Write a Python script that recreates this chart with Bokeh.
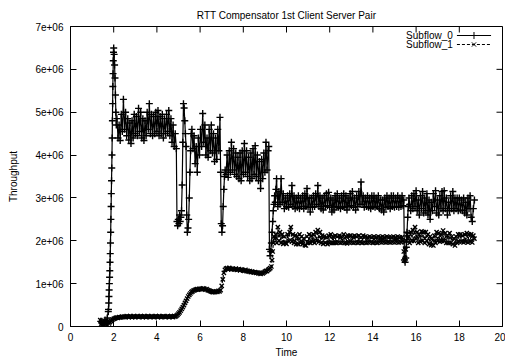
from bokeh.plotting import figure
from bokeh.models import Range1d, FixedTicker, Label, ColumnDataSource
from bokeh.embed import file_html
from bokeh.resources import INLINE

# Throughput samples per subflow, values in units of 1e6.
# Each block: (first time, sampling interval, samples)
subflow_0_blocks = [
    (1.40, 0.05, [0.12, 0.08, 0.05, 0.10, 0.15, 0.08, 0.20, 0.35]),
    (1.76, 0.01, [0.40, 0.55, 0.70, 0.85, 1.00, 1.15, 1.30, 1.50, 1.70, 1.95, 2.20, 2.50, 2.80,
                  3.10, 3.40, 3.70, 4.00, 4.40, 4.80, 5.20, 5.60, 5.90, 6.20, 6.40, 6.50]),
    (2.02, 0.02, [6.35, 6.10, 5.80, 5.40, 5.00, 4.70]),
    (2.15, 0.05, [4.85, 4.40, 4.70, 4.34, 4.95, 4.55, 5.30, 4.60, 5.00, 4.45, 4.85, 4.35, 4.75,
                  4.27, 4.80, 4.40, 4.95, 4.50, 4.90, 4.45, 5.09, 4.55, 5.00, 4.40, 4.85, 4.34,
                  4.80, 4.45, 5.00, 4.60, 5.20, 4.50, 4.95, 4.45, 4.90, 4.50, 5.00, 4.55, 5.04,
                  4.45, 4.90, 4.50, 4.95, 4.40, 4.85, 4.50, 4.95, 4.55, 5.04, 4.45, 4.85, 4.30,
                  4.70, 4.20, 4.50, 4.15]),
    (4.93, 0.03, [2.45, 2.35, 2.50, 2.40, 2.60, 2.45, 2.55, 2.70, 3.30, 4.30, 5.20, 5.10, 4.80,
                  4.50, 4.20, 2.60, 2.20, 2.30, 2.50, 3.00, 3.60, 4.10, 4.50]),
    (5.62, 0.05, [4.60, 4.15, 4.45, 3.80, 4.20, 3.60, 4.40, 4.00, 4.60, 4.20, 4.97, 4.30, 4.70,
                  4.00, 4.40, 3.95, 4.60, 4.10, 4.70, 4.05, 4.50, 3.85, 4.40, 3.90, 4.60, 4.10,
                  4.88]),
    (6.95, 0.03, [3.60, 2.40, 2.20, 2.35, 2.80, 3.20, 3.50, 3.65]),
    (7.20, 0.05, [3.55, 4.00, 3.48, 4.10, 3.60, 4.30, 3.65, 4.15, 3.55, 4.05, 3.50, 3.95, 3.45,
                  4.05, 3.40, 4.10, 3.55, 4.27, 3.60, 4.10, 3.50, 3.95, 3.40, 4.05, 3.45, 4.15,
                  3.55, 4.22, 3.50, 4.00, 3.40, 3.85, 3.22, 3.90, 3.45, 4.05, 3.60, 4.30, 3.65,
                  4.10]),
    (9.18, 0.03, [4.20, 1.80, 1.65, 1.75, 1.95, 2.20, 2.45, 2.70, 2.85, 3.05, 2.90, 3.20, 3.45,
                  3.05]),
    (9.60, 0.05, [2.80, 3.15, 2.85, 3.45, 2.90, 3.10, 2.75, 3.00, 2.80, 3.05,
                  2.78, 3.10, 2.85, 3.29, 2.80, 3.05, 2.75, 3.00, 2.78, 3.05,
                  2.75, 3.00, 2.80, 3.05, 2.75, 3.10, 2.80, 3.22, 2.78, 3.00,
                  2.67, 3.00, 2.78, 3.05, 2.80, 3.10, 2.85, 3.29, 2.80, 3.05,
                  2.75, 3.00, 2.72, 3.05, 2.80, 3.10, 2.82, 3.13, 2.78, 3.00,
                  2.67, 2.95, 2.72, 3.05, 2.80, 3.10, 2.78, 3.00, 2.75, 3.05,
                  2.80, 3.10, 2.78, 3.05, 2.72, 3.00, 2.80, 3.10, 2.82, 3.15,
                  2.78, 3.00, 2.72, 3.05, 2.80, 3.15, 2.85, 3.37, 2.85, 3.05,
                  2.78, 3.00, 2.80, 3.05, 2.78, 3.00, 2.75, 3.05, 2.80, 3.05,
                  2.78, 3.00, 2.80, 3.05, 2.75, 2.95, 2.72, 2.95, 2.67, 3.00,
                  2.78, 3.05, 2.80, 3.00, 2.75, 3.05, 2.80, 3.05, 2.78, 3.00,
                  2.80, 3.05, 2.78, 3.00, 2.80, 3.05, 2.82]),
    (15.43, 0.03, [2.95, 1.55, 1.50, 1.60, 1.85, 2.20, 2.55, 2.80, 3.00, 2.85]),
    (15.75, 0.05, [2.70, 3.05, 2.75, 3.10, 2.80, 3.17, 2.70, 2.95, 2.60, 3.05,
                   2.75, 3.15, 2.65, 3.00, 2.70, 3.10, 2.60, 2.95, 2.50, 2.90,
                   2.70, 3.10, 2.80, 3.17, 2.65, 2.95, 2.60, 3.05, 2.75, 3.15,
                   2.70, 3.17, 2.75, 3.00, 2.60, 2.90, 2.70, 3.05, 2.75, 3.15,
                   2.70, 3.00, 2.75, 3.00, 2.70, 3.00, 2.72, 2.95, 2.70, 3.00,
                   2.65, 2.90, 2.60, 3.00, 2.75, 3.05, 2.55, 2.45, 2.75, 2.95]),
]

subflow_1_blocks = [
    (1.38, 0.04, [0.15, 0.05, 0.10, 0.03, 0.08, 0.12, 0.05, 0.10, 0.04, 0.12, 0.07, 0.10, 0.14,
                  0.12, 0.16]),
    (2.00, 0.05, [0.18, 0.19, 0.20, 0.21, 0.20, 0.22, 0.21, 0.22, 0.23, 0.22,
                  0.23, 0.22, 0.24, 0.23, 0.22, 0.24, 0.23, 0.22, 0.23, 0.24,
                  0.22, 0.23, 0.24, 0.22, 0.23, 0.24, 0.23, 0.22, 0.24, 0.23,
                  0.22, 0.23, 0.24, 0.23, 0.22, 0.24, 0.23, 0.22, 0.23, 0.24,
                  0.23, 0.22, 0.24, 0.23, 0.22, 0.23, 0.24, 0.23, 0.22, 0.23,
                  0.24, 0.22, 0.23, 0.24, 0.23, 0.22, 0.24, 0.23, 0.25, 0.27,
                  0.30, 0.33, 0.37, 0.41, 0.45, 0.50, 0.55, 0.60, 0.65, 0.70,
                  0.74, 0.77, 0.80, 0.82, 0.84, 0.85, 0.86, 0.87, 0.86, 0.88,
                  0.87, 0.88, 0.87, 0.89, 0.88, 0.86, 0.87, 0.85, 0.84, 0.83,
                  0.82, 0.81, 0.80, 0.81, 0.80, 0.82, 0.81, 0.83, 0.82, 0.85,
                  0.95, 1.10, 1.25, 1.32, 1.35, 1.36, 1.34, 1.37, 1.35, 1.33,
                  1.35, 1.34, 1.33, 1.35, 1.32, 1.33, 1.34, 1.31, 1.33, 1.32,
                  1.31, 1.30, 1.32, 1.29, 1.30, 1.28, 1.29, 1.27, 1.28, 1.27,
                  1.26, 1.27, 1.25, 1.26, 1.24, 1.25, 1.23, 1.25, 1.24, 1.26,
                  1.28, 1.30, 1.29, 1.32, 1.34, 1.36, 1.40]),
    (9.33, 0.03, [1.55, 1.75, 1.95, 2.10, 2.05]),
    (9.50, 0.05, [2.15, 1.95, 2.32, 2.00, 2.20, 1.95, 2.15, 1.93, 2.10, 1.95,
                  1.93, 2.15, 2.00, 2.20, 2.32, 1.98, 2.15, 1.95, 2.12, 1.92,
                  2.10, 1.92, 2.15, 1.95, 2.10, 1.92, 2.05, 1.90, 1.89, 2.10,
                  1.95, 2.15, 1.95, 2.12, 1.98, 2.15, 1.95, 2.20, 2.00, 2.25,
                  1.98, 2.20, 1.95, 2.12, 1.93, 2.10, 1.95, 2.08, 1.92, 2.12,
                  1.95, 2.15, 1.95, 2.10, 1.95, 2.12, 1.95, 2.10, 1.96, 2.12,
                  1.95, 2.10, 1.96, 2.15, 1.95, 2.10, 1.94, 2.12, 1.96, 2.12,
                  1.96, 2.10, 1.95, 2.12, 1.96, 2.10, 1.95, 2.12, 1.97, 2.08,
                  1.95, 2.12, 1.96, 2.10, 1.95, 2.08, 1.96, 2.10, 1.97, 2.08,
                  1.95, 2.10, 1.96, 2.08, 1.95, 2.10, 1.97, 2.08, 1.96, 2.10,
                  1.97, 2.08, 1.96, 2.10, 1.97, 2.08, 1.96, 2.08, 1.97, 2.10,
                  1.96, 2.08, 1.97, 2.10, 1.96, 2.08, 1.97, 2.08, 2.00]),
    (15.43, 0.03, [1.75, 1.55, 1.60, 1.80, 2.00, 2.15, 2.05]),
    (15.65, 0.05, [2.10, 1.95, 2.20, 2.00, 2.25, 2.00, 2.32, 2.05, 2.20, 1.95,
                   2.15, 1.98, 2.22, 2.00, 2.20, 1.95, 2.20, 2.00, 2.15, 1.92,
                   2.10, 1.90, 2.05, 1.89, 2.12, 1.95, 2.20, 2.00, 2.18, 1.98,
                   2.15, 2.00, 2.24, 2.00, 2.18, 1.95, 2.12, 1.95, 2.18, 1.95,
                   2.10, 1.92, 2.05, 1.89, 2.10, 1.95, 2.15, 1.98, 2.15, 1.98,
                   2.12, 1.96, 2.15, 1.98, 2.18, 1.96, 2.15, 1.98, 2.15, 1.96,
                   2.12, 2.05]),
]

x_ticks = [0, 2, 4, 6, 8, 10, 12, 14, 16, 18, 20]
y_ticks = [0, 1e6, 2e6, 3e6, 4e6, 5e6, 6e6, 7e6]
y_tick_labels = ["0", "1e+06", "2e+06", "3e+06", "4e+06", "5e+06", "6e+06", "7e+06"]
series_names = ["Subflow_0", "Subflow_1"]

SCALE = 1e6
FONT = "Liberation Sans"
FS = "10px"
X_MAX, Y_MAX = 20, 7e6
FRAME_W, FRAME_H = 432, 300
B_LEFT, B_RIGHT, B_TOP, B_BOTTOM = 70, 3, 26, 36
TICK_PX = 6
MARK_W = 1.4   # stroke of the point symbols
LINE_W = 1.2   # stroke of the connecting lines


def expand(blocks):
    t, v = [], []
    for start, step, vals in blocks:
        for i, val in enumerate(vals):
            t.append(round(start + i * step, 3))
            v.append(val * SCALE)
    return t, v


t0, v0 = expand(subflow_0_blocks)
t1, v1 = expand(subflow_1_blocks)
src0 = ColumnDataSource(dict(t=t0, v=v0))
src1 = ColumnDataSource(dict(t=t1, v=v1))

p = figure(frame_width=FRAME_W, frame_height=FRAME_H,
           x_range=Range1d(0, X_MAX), y_range=Range1d(0, Y_MAX),
           output_backend="svg", toolbar_location=None,
           min_border_left=B_LEFT, min_border_right=B_RIGHT,
           min_border_top=B_TOP, min_border_bottom=B_BOTTOM,
           title="RTT Compensator 1st Client Server Pair")
p.title.align = "center"
p.title.text_font = FONT
p.title.text_font_size = FS
p.title.text_font_style = "normal"
p.title.text_color = "black"
p.title.standoff = 12

p.grid.visible = False
p.outline_line_color = "black"
p.outline_line_width = 1
p.background_fill_color = "white"
p.border_fill_color = "white"

for ax in (p.xaxis[0], p.yaxis[0]):
    ax.major_tick_in = TICK_PX
    ax.major_tick_out = 0
    ax.minor_tick_in = 0
    ax.minor_tick_out = 0
    ax.axis_line_color = "black"
    ax.major_tick_line_color = "black"
    ax.major_label_text_font = FONT
    ax.major_label_text_font_size = FS
    ax.major_label_text_color = "black"
    ax.axis_label_text_font = FONT
    ax.axis_label_text_font_size = FS
    ax.axis_label_text_font_style = "normal"
    ax.axis_label_text_color = "black"

xax = p.xaxis[0]
xax.ticker = FixedTicker(ticks=x_ticks)
xax.axis_label = "Time"
xax.major_label_standoff = 6
xax.axis_label_standoff = 3

yax = p.yaxis[0]
yax.ticker = FixedTicker(ticks=y_ticks)
yax.major_label_overrides = {t: s for t, s in zip(y_ticks, y_tick_labels)}
yax.axis_label = "Throughput"
yax.major_label_standoff = 7
yax.axis_label_standoff = 13

# mirrored tick marks along the top and right edges of the frame
dx_tick = TICK_PX * X_MAX / FRAME_W
dy_tick = TICK_PX * Y_MAX / FRAME_H
p.segment(x0=x_ticks, y0=[Y_MAX] * len(x_ticks), x1=x_ticks,
          y1=[Y_MAX - dy_tick] * len(x_ticks), line_color="black", line_width=1)
p.segment(x0=[X_MAX] * len(y_ticks), y0=y_ticks, x1=[X_MAX - dx_tick] * len(y_ticks),
          y1=y_ticks, line_color="black", line_width=1)

# Subflow_0: solid line with plus markers
p.line("t", "v", source=src0, line_color="black", line_width=LINE_W)
p.scatter("t", "v", source=src0, marker="cross", size=7, line_color="black", line_width=MARK_W)
# Subflow_1: dashed line with x markers
p.line("t", "v", source=src1, line_color="black", line_width=LINE_W, line_dash="3 2")
p.scatter("t", "v", source=src1, marker="x", size=6, line_color="black", line_width=MARK_W)

# key in the top-right corner: name followed by a sample of the line
key_text_x = 17.7
key_x0, key_x1 = 17.89, 19.47
key_rows = [6.79e6, 6.58e6]
key_markers = ["cross", "x"]
key_sizes = [7, 6]
key_dashes = ["solid", "3 2"]
for row_y, name, mk, sz, dash in zip(key_rows, series_names, key_markers, key_sizes, key_dashes):
    p.add_layout(Label(x=key_text_x, y=row_y, text=name, text_align="right",
                       text_baseline="middle", text_font=FONT, text_font_size=FS,
                       text_color="black"))
    p.line([key_x0, key_x1], [row_y, row_y], line_color="black", line_width=1, line_dash=dash)
    p.scatter([(key_x0 + key_x1) / 2], [row_y], marker=mk, size=sz, line_color="black",
              line_width=1)

open("out.html", "w").write(file_html(p, INLINE))
